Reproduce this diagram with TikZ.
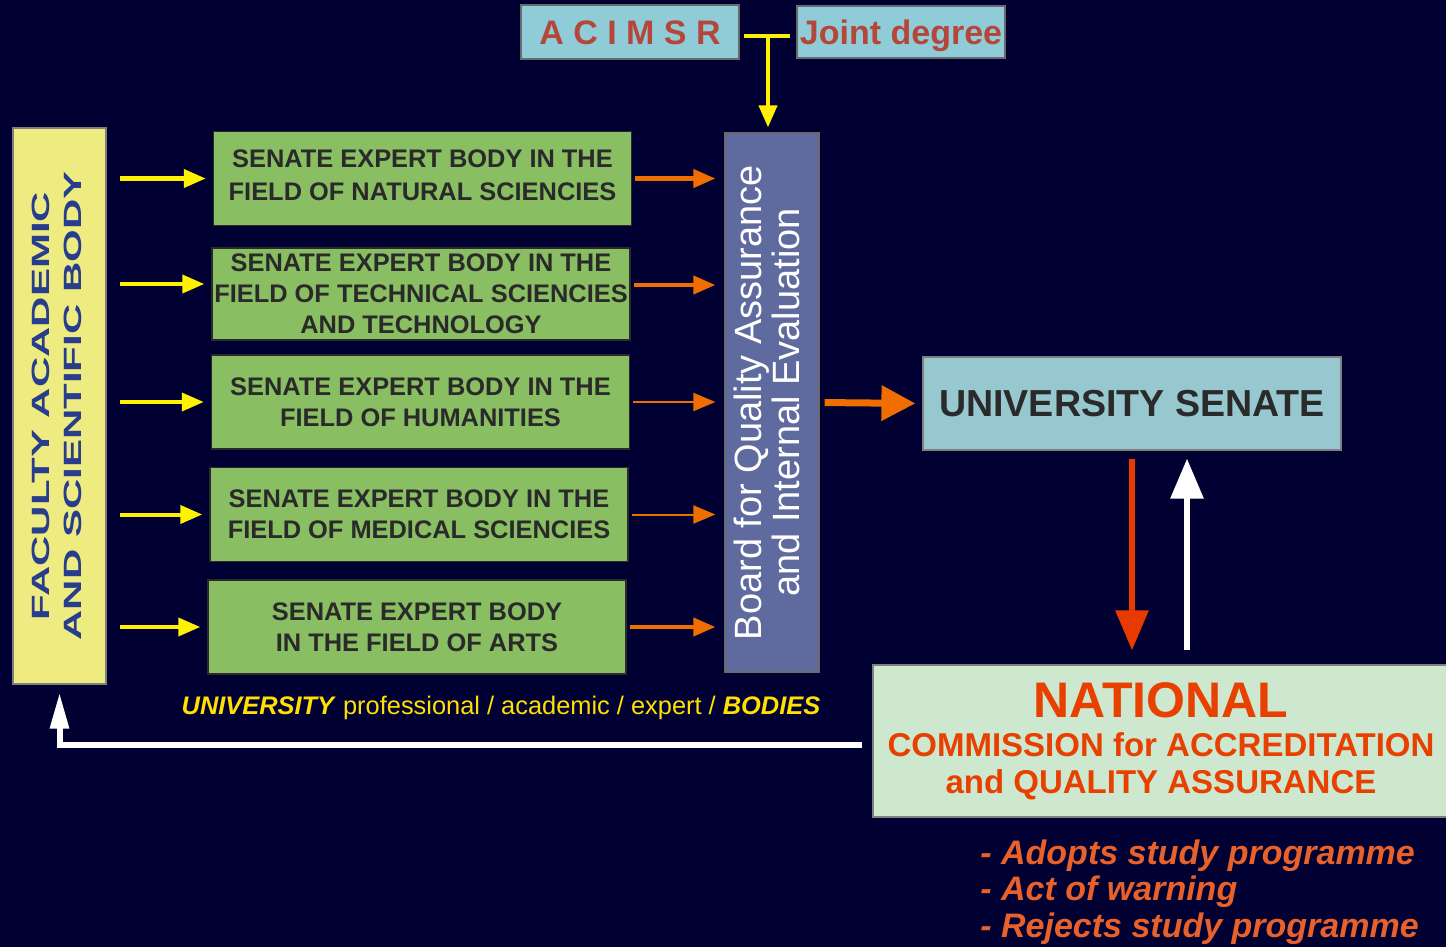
\documentclass[tikz,border=0pt]{standalone}
\usepackage{fontspec}
\setmainfont{Liberation Sans}
\newfontfamily\widefont[FakeStretch=1.68]{Liberation Sans}
\usetikzlibrary{arrows.meta,positioning}
\definecolor{bgnavy}{RGB}{0,0,51}
\definecolor{bodygreen}{RGB}{137,190,98}
\definecolor{facyellow}{RGB}{238,236,128}
\definecolor{facblue}{RGB}{40,62,140}
\definecolor{boardblue}{RGB}{95,106,158}
\definecolor{senateblue}{RGB}{151,200,208}
\definecolor{topblue}{RGB}{143,204,216}
\definecolor{brick}{RGB}{181,71,58}
\definecolor{natgreen}{RGB}{205,232,207}
\definecolor{natred}{RGB}{232,64,0}
\definecolor{listorange}{RGB}{232,96,42}
\definecolor{arrorange}{RGB}{240,110,0}
\definecolor{arrred}{RGB}{232,58,0}
\definecolor{capyellow}{RGB}{255,224,0}
\definecolor{darktext}{RGB}{42,42,42}

\begin{document}
\begin{tikzpicture}[x=0.5pt, y=-0.5pt,
  bodybox/.style={draw=darktext, line width=0.75pt, fill=bodygreen, text=darktext,
               inner sep=0pt, align=center, minimum width=209pt, minimum height=47pt,
               font=\fontsize{12.7}{15.5}\selectfont\bfseries},
  topbox/.style={draw=darktext!70, line width=0.6pt, fill=topblue, text=brick,
               inner sep=0pt, text height=12.2pt, text depth=0pt,
               font=\fontsize{17}{20}\selectfont\bfseries},
  yarr/.style={-{Triangle[length=11pt, width=9pt]}, line width=2pt, yellow},
  oarr/.style={-{Triangle[length=11pt, width=9pt]}, line width=2pt, arrorange},
  bigarr/.style={-{Triangle[length=17pt, width=17pt]}, line width=3.5pt},
  backarr/.style={-{Triangle[length=18pt, width=9pt]}, line width=3pt, white}]
\useasboundingbox (0,0) rectangle (1446,947);
\clip (0,0) rectangle (1446,947);
\fill[bgnavy] (0,0) rectangle (1446,947);
\node[draw=darktext!60, line width=0.6pt, fill=facyellow, text=facblue, inner sep=0pt,
      minimum width=46.5pt, minimum height=278pt] (fac) at (59.5,406)
      {\rotatebox{90}{\widefont\fontsize{12.5}{16}\selectfont\bfseries
       \begin{tabular}{@{}c@{}}FACULTY ACADEMIC\\AND SCIENTIFIC BODY\end{tabular}}};
\node[bodybox, font=\fontsize{12.7}{16.5}\selectfont\bfseries, text depth=3pt] (g1) at (422.5,178.5)
      {SENATE EXPERT BODY IN THE\\FIELD OF NATURAL SCIENCIES};
\node[bodybox, minimum height=46pt] (g2) at (421,294)
      {SENATE EXPERT BODY IN THE\\FIELD OF TECHNICAL SCIENCIES\\AND TECHNOLOGY};
\node[bodybox] (g3) at (420.5,402) {SENATE EXPERT BODY IN THE\\FIELD OF HUMANITIES};
\node[bodybox] (g4) at (419,514.5) {SENATE EXPERT BODY IN THE\\FIELD OF MEDICAL SCIENCIES};
\node[bodybox] (g5) at (417,627) {SENATE EXPERT BODY\\IN THE FIELD OF ARTS};
\node[draw=darktext!70, line width=0.6pt, fill=boardblue, text=white, inner sep=0pt,
      minimum width=47pt, minimum height=269.5pt] (board) at (772,402.5)
      {\rotatebox{90}{\fontsize{19}{18}\selectfont
       \begin{tabular}{@{}c@{}}Board for Quality Assurance\\and Internal Evaluation\end{tabular}}};
\node[topbox, minimum width=109pt, minimum height=27pt] (acimsr) at (630,32) {A C I M S R};
\node[topbox, minimum width=104pt, minimum height=26pt] (joint) at (901,32) {Joint degree};
\node[draw=darktext!60, line width=0.6pt, fill=senateblue, text=darktext, inner sep=0pt,
      minimum width=209pt, minimum height=46.5pt, font=\fontsize{18.8}{20}\selectfont\bfseries]
      (senate) at (1132,403.5) {UNIVERSITY SENATE};
\node[draw=darktext!60, line width=0.6pt, fill=natgreen, text=natred, inner sep=0pt,
      minimum width=288pt, minimum height=76pt, align=center,
      font=\fontsize{16.5}{18.5}\selectfont\bfseries] (nat) at (1161,741)
      {{\fontsize{25}{26}\selectfont NATIONAL}\\[1pt]COMMISSION for ACCREDITATION\\and QUALITY ASSURANCE};
\node[text=capyellow, inner sep=0pt, font=\fontsize{12.7}{15}\selectfont] (cap) at (501,708)
      {\textbf{\textit{UNIVERSITY}} professional / academic / expert / \textbf{\textit{BODIES}}};
\node[anchor=west, align=left, text=listorange, inner sep=0pt,
      font=\fontsize{17}{18.25}\selectfont\bfseries\itshape] (acts) at (980,892)
      {- Adopts study programme\\- Act of warning\\- Rejects study programme};
\coordinate (g2in) at ([yshift=5pt]g2.west);
\coordinate (g2out) at ([yshift=4.5pt]g2.east);
\coordinate (acout) at ([yshift=-2pt]acimsr.east);
\coordinate (jdin) at ([yshift=-2pt]joint.west);
\coordinate (natout) at ([yshift=-2pt]nat.west);
\draw[yarr, shorten <=6.5pt, shorten >=3.5pt] (fac.east |- g1.west) -- (g1.west);
\draw[yarr, shorten <=6.5pt, shorten >=3.5pt] (fac.east |- g2in) -- (g2in);
\draw[yarr, shorten <=6.5pt, shorten >=3.5pt] (fac.east |- g3.west) -- (g3.west);
\draw[yarr, shorten <=6.5pt, shorten >=3.5pt] (fac.east |- g4.west) -- (g4.west);
\draw[yarr, shorten <=6.5pt, shorten >=3.5pt] (fac.east |- g5.west) -- (g5.west);
\draw[oarr, shorten <=1.5pt, shorten >=4.5pt] (g1.east) -- (board.west |- g1.east);
\draw[oarr, shorten <=1.5pt, shorten >=4.5pt] (g2out) -- (board.west |- g2out);
\draw[oarr, line width=1pt, shorten <=1.5pt, shorten >=4.5pt] (g3.east) -- (board.west |- g3.east);
\draw[oarr, line width=1pt, shorten <=1.5pt, shorten >=4.5pt] (g4.east) -- (board.west |- g4.east);
\draw[oarr, shorten <=1.5pt, shorten >=4.5pt] (g5.east) -- (board.west |- g5.east);
\draw[bigarr, arrorange, shorten <=2.5pt, shorten >=3.5pt] (board.east) -- (senate.west);
\path (acout) -- coordinate[pos=0.5] (jm) (jdin);
\draw[line width=2pt, yellow, shorten <=2pt, shorten >=3pt] (acout) -- (jdin);
\draw[yarr] (jm) -- ([yshift=2.5pt]jm |- board.north);
\draw[bigarr, arrred, line width=3pt, -{Triangle[length=20pt, width=16pt]},
      shorten <=4pt, shorten >=7pt] (senate.south) -- (senate.south |- nat.north);
\draw[bigarr, white, line width=3pt, -{Triangle[length=20pt, width=16pt]},
      shorten <=7pt, shorten >=4pt] ([xshift=27.5pt]senate.south |- nat.north) -- ([xshift=27.5pt]senate.south);
\draw[backarr, shorten <=5pt, shorten >=4pt] (natout) -| (fac.south);
\end{tikzpicture}
\end{document}
